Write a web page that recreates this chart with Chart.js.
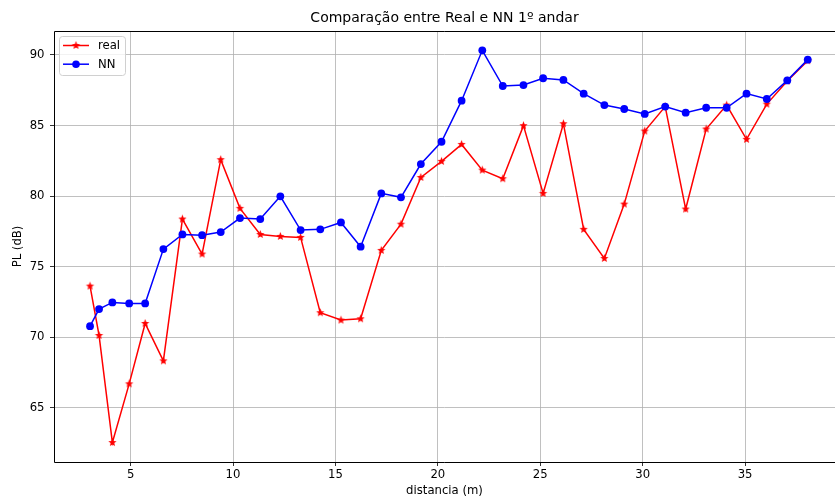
<!DOCTYPE html>
<html>
<head>
<meta charset="utf-8">
<script src="https://cdn.jsdelivr.net/npm/chart.js@4.4.0/dist/chart.umd.min.js"></script>
<style>
  html,body{margin:0;padding:0;background:#fff;}
  #wrap{width:835px;height:500px;position:relative;}
</style>
</head>
<body>
<div id="wrap"><canvas id="c"></canvas></div>
<script>
// distancia (m)
const dist = [3.02, 3.46, 4.11, 4.93, 5.71, 6.6, 7.53, 8.49, 9.4, 10.34,
  11.33, 12.31, 13.3, 14.26, 15.27, 16.23, 17.24, 18.2, 19.17, 20.18,
  21.16, 22.17, 23.17, 24.18, 25.14, 26.13, 27.12, 28.13, 29.1, 30.1,
  31.1, 32.1, 33.1, 34.1, 35.07, 36.06, 37.06, 38.06];
// PL (dB) medido
const real = [73.62, 70.12, 62.53, 66.69, 70.97, 68.32, 78.37, 75.89, 82.58, 79.13,
  77.28, 77.14, 77.07, 71.73, 71.21, 71.3, 76.15, 78.01, 81.32, 82.46,
  83.66, 81.84, 81.23, 84.99, 80.19, 85.13, 77.64, 75.58, 79.43, 84.61,
  86.34, 79.08, 84.75, 86.45, 84.02, 86.52, 88.16, 89.6];
// PL (dB) rede neural
const nn = [70.78, 71.99, 72.46, 72.39, 72.39, 76.24, 77.28, 77.23, 77.45, 78.44,
  78.37, 79.98, 77.59, 77.64, 78.13, 76.41, 80.19, 79.91, 82.27, 83.85,
  86.76, 90.33, 87.8, 87.87, 88.35, 88.23, 87.26, 86.45, 86.17, 85.82,
  86.34, 85.91, 86.26, 86.26, 87.26, 86.88, 88.2, 89.67];
const xTicks = [5, 10, 15, 20, 25, 30, 35];
const yTicks = [65, 70, 75, 80, 85, 90];
const title = "Comparação entre Real e NN 1º andar";

const FONT = "'DejaVu Sans', sans-serif";
const FS = 11.67;

function starImg(color, R, r){
  const s = Math.ceil(R*2+2);
  const cv = document.createElement("canvas");
  cv.width = s; cv.height = s;
  const g = cv.getContext("2d");
  g.translate(s/2, s/2);
  g.beginPath();
  for(let i=0;i<10;i++){
    const rad = i%2===0 ? R : r;
    const a = -Math.PI/2 + i*Math.PI/5;
    const px = rad*Math.cos(a), py = rad*Math.sin(a);
    if(i===0) g.moveTo(px,py); else g.lineTo(px,py);
  }
  g.closePath();
  g.fillStyle = color; g.fill();
  return cv;
}
const star = starImg("#ff0000", 4.4, 1.9);

const pts = ys => dist.map((x,i)=>({x:x, y:ys[i]}));

const frame = {
  id:"frame",
  afterDraw(chart){
    const {ctx, chartArea:a} = chart;
    ctx.save();
    // spines (right one falls off the picture in the original)
    ctx.strokeStyle = "#000"; ctx.lineWidth = 1;
    ctx.beginPath();
    ctx.moveTo(a.right, a.top+0.5); ctx.lineTo(a.left+0.5, a.top+0.5);
    ctx.lineTo(a.left+0.5, a.bottom+0.5); ctx.lineTo(a.right, a.bottom+0.5);
    ctx.stroke();
    // title
    ctx.fillStyle = "#000";
    ctx.font = "14px " + FONT;
    ctx.textAlign = "center"; ctx.textBaseline = "middle";
    ctx.fillText(title, (a.left+a.right)/2, 18);
    // legend
    const bx = 59.5, by = 36.5, bw = 66, bh = 39;
    ctx.beginPath();
    if(ctx.roundRect) ctx.roundRect(bx, by, bw, bh, 3); else ctx.rect(bx,by,bw,bh);
    ctx.fillStyle = "rgba(255,255,255,0.8)"; ctx.fill();
    ctx.strokeStyle = "#d0d0d0"; ctx.lineWidth = 1; ctx.stroke();
    chart.data.datasets.forEach((ds, i)=>{
      const y = 45.5 + i*18.7;
      ctx.beginPath();
      ctx.moveTo(63, y); ctx.lineTo(89, y);
      ctx.strokeStyle = ds.borderColor; ctx.lineWidth = 1.5; ctx.stroke();
      if(ds.pointStyle === "circle"){
        ctx.beginPath(); ctx.arc(76, y, 3.8, 0, Math.PI*2);
        ctx.fillStyle = ds.backgroundColor; ctx.fill();
      } else {
        ctx.drawImage(ds.pointStyle, 76 - ds.pointStyle.width/2, y - ds.pointStyle.height/2);
      }
      ctx.fillStyle = "#000"; ctx.font = FS + "px " + FONT;
      ctx.textAlign = "left"; ctx.textBaseline = "middle";
      ctx.fillText(ds.label, 98, y + 0.5);
    });
    ctx.restore();
  }
};

new Chart(document.getElementById("c").getContext("2d"), {
  type: "scatter",
  data: {
    datasets: [
      { label:"real", data: pts(real), showLine:true, borderColor:"#ff0000", backgroundColor:"#ff0000",
        borderWidth:1.5, pointStyle: star, pointRadius:4, order:1 },
      { label:"NN", data: pts(nn), showLine:true, borderColor:"#0000ff", backgroundColor:"#0000ff",
        borderWidth:1.5, pointStyle:"circle", pointRadius:3.9, pointBorderWidth:0, order:0 }
    ]
  },
  options: {
    responsive:true, maintainAspectRatio:false, animation:false,
    layout:{ autoPadding:false, padding:{ top:31, left:0, right:0, bottom:0 } },
    plugins:{ legend:{ display:false }, tooltip:{ enabled:false } },
    scales:{
      x:{
        type:"linear", min:1.26, max:39.39,
        afterBuildTicks: s => { s.ticks = xTicks.map(v=>({value:v})); },
        afterFit: s => { s.height = 38; s.paddingLeft = 0; s.paddingRight = 0; },
        grid:{ color:"#b0b0b0", lineWidth:0.8, tickColor:"#000", tickLength:4 },
        border:{ display:false },
        ticks:{ padding:2, color:"#000", font:{ family:FONT, size:FS }, maxRotation:0 },
        title:{ display:true, text:"distancia (m)", color:"#000", font:{ family:FONT, size:FS }, padding:{ top:0, bottom:2 } }
      },
      y:{
        type:"linear", min:61.15, max:91.7,
        afterBuildTicks: s => { s.ticks = yTicks.map(v=>({value:v})); },
        afterFit: s => { s.width = 54; s.paddingTop = 0; s.paddingBottom = 0; },
        grid:{ color:"#b0b0b0", lineWidth:0.8, tickColor:"#000", tickLength:4 },
        border:{ display:false },
        ticks:{ padding:5.5, color:"#000", font:{ family:FONT, size:FS } },
        title:{ display:true, text:"PL (dB)", color:"#000", font:{ family:FONT, size:FS }, padding:{ top:11, bottom:0 } }
      }
    }
  },
  plugins:[frame]
});
</script>
</body>
</html>
